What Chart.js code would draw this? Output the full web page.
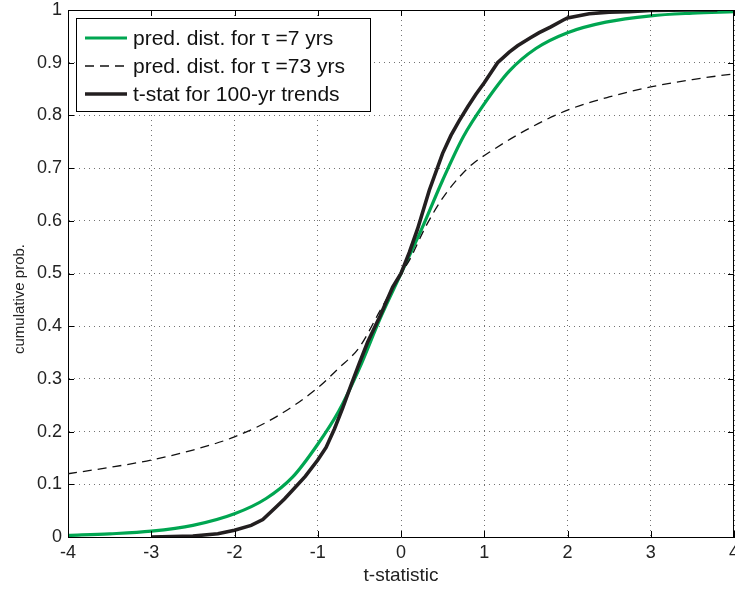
<!DOCTYPE html>
<html>
<head>
<meta charset="utf-8">
<script src="https://cdn.jsdelivr.net/npm/chart.js@4"></script>
<style>
  html, body { margin: 0; padding: 0; background: #fff; }
  #wrap { width: 735px; height: 592px; }
</style>
</head>
<body>
<div id="wrap"><canvas id="cdf"></canvas></div>
<script>
  // 预测分布 τ = 7 年
  const greenX = [-4, -3.5, -3, -2.5, -2, -1.62, -1.3, -1, -0.75, -0.5, -0.25, 0, 0.25, 0.5, 0.75, 1, 1.3, 1.62, 2, 2.46, 3, 3.5, 4];
  const greenY = [0.003, 0.006, 0.011, 0.022, 0.044, 0.073, 0.114, 0.176, 0.238, 0.32, 0.415, 0.5, 0.585, 0.677, 0.76, 0.822, 0.884, 0.927, 0.957, 0.977, 0.989, 0.994, 0.997];

  // 预测分布 τ = 73 年
  const dashX = [-4, -3.5, -3, -2.5, -2, -1.5, -1, -0.75, -0.5, -0.25, 0, 0.1, 0.3, 0.5, 0.7, 0.86, 1.06, 1.5, 2, 2.5, 3, 3.5, 4];
  const dashY = [0.12, 0.132, 0.146, 0.165, 0.19, 0.228, 0.283, 0.32, 0.36, 0.43, 0.5, 0.525, 0.59, 0.643, 0.683, 0.708, 0.73, 0.772, 0.81, 0.835, 0.854, 0.868, 0.879];

  // 100 年趋势的 t 统计量
  const tstatX = [-3, -2.5, -2.2, -2, -1.8, -1.66, -1.5, -1.4, -1.3, -1.15, -1, -0.9, -0.8, -0.7, -0.6, -0.5, -0.4, -0.25, -0.1, 0, 0.1, 0.2, 0.34, 0.5, 0.6, 0.7, 0.8, 0.9, 1, 1.16, 1.3, 1.4, 1.55, 1.66, 1.8, 1.95, 2, 2.26, 2.5, 2.74, 3, 3.5, 3.8];
  const tstatY = [0, 0.002, 0.006, 0.013, 0.022, 0.033, 0.057, 0.072, 0.089, 0.115, 0.146, 0.17, 0.205, 0.245, 0.288, 0.33, 0.37, 0.42, 0.474, 0.5, 0.54, 0.585, 0.658, 0.728, 0.762, 0.79, 0.816, 0.84, 0.862, 0.9, 0.92, 0.932, 0.947, 0.957, 0.968, 0.981, 0.985, 0.993, 0.996, 0.997, 0.999, 1, 1];

  // 坐标轴刻度
  const xTicks = [-4, -3, -2, -1, 0, 1, 2, 3, 4];
  const yTicks = [0, 0.1, 0.2, 0.3, 0.4, 0.5, 0.6, 0.7, 0.8, 0.9, 1];
  const yTickLabels = ['0', '0.1', '0.2', '0.3', '0.4', '0.5', '0.6', '0.7', '0.8', '0.9', '1'];

  const legendLabels = ['pred. dist. for τ =7 yrs', 'pred. dist. for τ =73 yrs', 't-stat for 100-yr trends'];
  const yTitle = 'cumulative prob.';

  const fontFamily = '"Liberation Sans", Arial, Helvetica, sans-serif';
  const greenColor = '#00a651';
  const blackColor = '#231f20';

  function toPoints(xs, ys) {
    return xs.map((x, i) => ({ x: x, y: ys[i] }));
  }

  // 边框、内向刻度线、纵轴标题和图例
  const matlabBox = {
    id: 'matlabBox',
    afterDatasetsDraw(chart) {
      const { ctx, chartArea: a, scales } = chart;
      const len = 6;
      ctx.save();
      ctx.strokeStyle = '#000';
      ctx.lineWidth = 1;
      ctx.setLineDash([]);
      ctx.beginPath();
      ctx.moveTo(a.left, a.top + 0.5);
      ctx.lineTo(a.right, a.top + 0.5);
      ctx.moveTo(a.right - 0.5, a.top);
      ctx.lineTo(a.right - 0.5, a.bottom);
      xTicks.forEach(v => {
        const px = Math.round(scales.x.getPixelForValue(v)) + 0.5;
        ctx.moveTo(px, a.bottom); ctx.lineTo(px, a.bottom - len);
        ctx.moveTo(px, a.top); ctx.lineTo(px, a.top + len);
      });
      yTicks.forEach(v => {
        const py = Math.round(scales.y.getPixelForValue(v)) + 0.5;
        ctx.moveTo(a.left, py); ctx.lineTo(a.left + len, py);
        ctx.moveTo(a.right, py); ctx.lineTo(a.right - len, py);
      });
      ctx.stroke();
      ctx.restore();
    },
    afterDraw(chart) {
      const { ctx, chartArea: a } = chart;

      // 纵轴标题（略低于中心）
      ctx.save();
      ctx.font = '15px ' + fontFamily;
      ctx.fillStyle = '#222';
      ctx.textAlign = 'center';
      ctx.textBaseline = 'middle';
      ctx.translate(20, 299);
      ctx.rotate(-Math.PI / 2);
      ctx.fillText(yTitle, 0, 0);
      ctx.restore();

      // 图例
      const bx = a.left + 8, by = a.top + 8, bw = 294, bh = 93;
      ctx.save();
      ctx.fillStyle = '#fff';
      ctx.fillRect(bx, by, bw, bh);
      ctx.strokeStyle = '#000';
      ctx.lineWidth = 1;
      ctx.strokeRect(bx + 0.5, by + 0.5, bw, bh);
      ctx.font = '21px ' + fontFamily;
      ctx.textBaseline = 'middle';
      ctx.fillStyle = '#111';
      chart.data.datasets.forEach((ds, i) => {
        const ry = by + 20 + i * 28;
        ctx.strokeStyle = ds.borderColor;
        ctx.lineWidth = ds.borderWidth;
        ctx.setLineDash(ds.borderDash || []);
        ctx.beginPath();
        ctx.moveTo(bx + 9, ry);
        ctx.lineTo(bx + 51, ry);
        ctx.stroke();
        ctx.setLineDash([]);
        ctx.fillText(legendLabels[i], bx + 57, ry + 1);
      });
      ctx.restore();
    }
  };

  new Chart(document.getElementById('cdf').getContext('2d'), {
    type: 'line',
    data: {
      datasets: [
        {
          label: legendLabels[0],
          data: toPoints(greenX, greenY),
          borderColor: greenColor,
          borderWidth: 3.2,
          pointRadius: 0,
          cubicInterpolationMode: 'monotone',
          order: 2
        },
        {
          label: legendLabels[1],
          data: toPoints(dashX, dashY),
          borderColor: '#111',
          borderWidth: 1.3,
          borderDash: [9, 6],
          pointRadius: 0,
          cubicInterpolationMode: 'monotone',
          order: 1
        },
        {
          label: legendLabels[2],
          data: toPoints(tstatX, tstatY),
          borderColor: blackColor,
          borderWidth: 3.6,
          pointRadius: 0,
          tension: 0,
          order: 0
        }
      ]
    },
    options: {
      responsive: true,
      maintainAspectRatio: false,
      animation: false,
      layout: { padding: { top: 10, right: 1, left: 0, bottom: 0 } },
      scales: {
        x: {
          type: 'linear',
          min: -4,
          max: 4,
          afterBuildTicks: s => { s.ticks = xTicks.map(v => ({ value: v })); },
          afterFit: s => { s.height = 55; s.paddingLeft = 0; s.paddingRight = 0; },
          ticks: {
            callback: v => String(v),
            font: { family: fontFamily, size: 18 },
            color: '#222',
            padding: 5,
            maxRotation: 0,
            autoSkip: false
          },
          grid: { color: 'rgba(0,0,0,0.55)', lineWidth: 1, drawTicks: false },
          border: { display: true, color: '#000', width: 1, dash: [1, 4] },
          title: {
            display: true,
            text: 't-statistic',
            font: { family: fontFamily, size: 19 },
            color: '#222',
            padding: { top: 0, bottom: 5 }
          }
        },
        y: {
          type: 'linear',
          min: 0,
          max: 1,
          afterBuildTicks: s => { s.ticks = yTicks.map(v => ({ value: v })); },
          afterFit: s => { s.width = 68; s.paddingTop = 0; s.paddingBottom = 0; },
          ticks: {
            callback: (v, i) => yTickLabels[i],
            font: { family: fontFamily, size: 18 },
            color: '#222',
            padding: 6,
            autoSkip: false
          },
          grid: { color: 'rgba(0,0,0,0.55)', lineWidth: 1, drawTicks: false },
          border: { display: true, color: '#000', width: 1, dash: [1, 4] },
          title: { display: false }
        }
      },
      plugins: {
        legend: { display: false },
        tooltip: { enabled: false }
      }
    },
    plugins: [matlabBox]
  });
</script>
</body>
</html>
